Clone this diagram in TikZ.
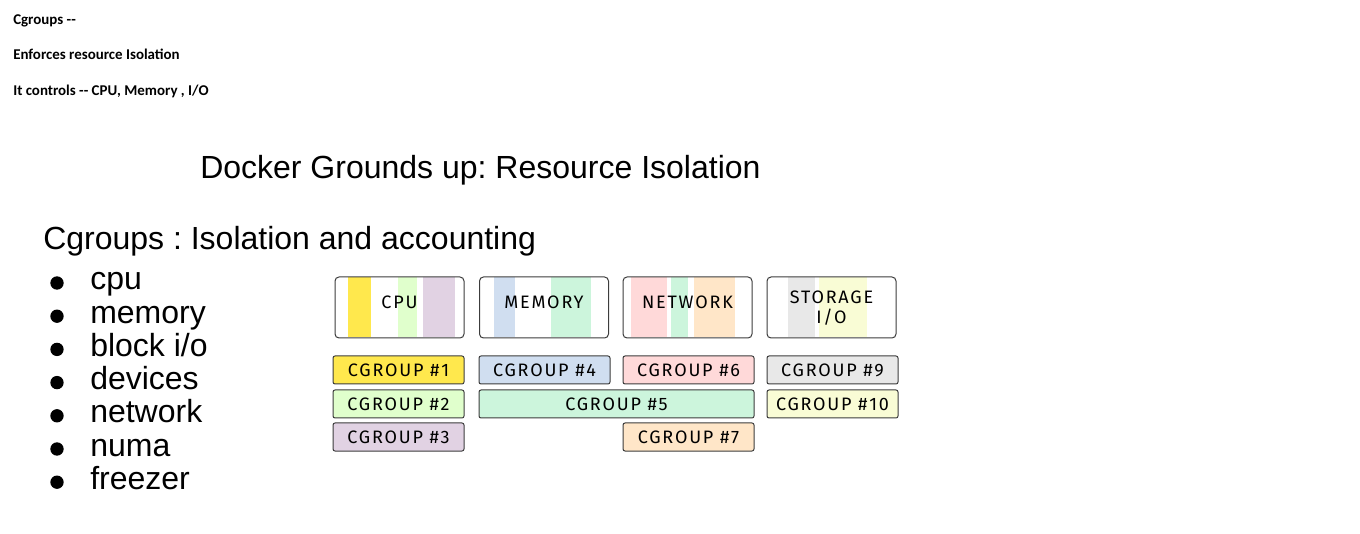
\documentclass[tikz,border=0pt]{standalone}
\usepackage{fontspec}
\setmainfont{Liberation Sans}
\newfontfamily\notefont{Carlito}
\newfontfamily\handfont[LetterSpace=10]{Fira Sans}
\usepackage{tikz}
\usetikzlibrary{positioning}
\frenchspacing
\definecolor{boxline}{RGB}{60,60,60}
\definecolor{cgyellow}{RGB}{255,232,77}
\definecolor{cglime}{RGB}{224,255,204}
\definecolor{cgplum}{RGB}{225,210,227}
\definecolor{cgblue}{RGB}{208,222,240}
\definecolor{cgmint}{RGB}{204,245,220}
\definecolor{cgpink}{RGB}{255,217,217}
\definecolor{cgpeach}{RGB}{255,230,200}
\definecolor{cggray}{RGB}{232,232,232}
\definecolor{cgcream}{RGB}{249,252,213}
\begin{document}
\begin{tikzpicture}[x=0.75pt, y=-0.75pt,
  notetext/.style={font=\notefont\bfseries\fontsize{11.2}{13}\selectfont, inner sep=0pt, anchor=base west},
  bigtext/.style={font=\fontsize{24}{28}\selectfont, inner sep=0pt, anchor=base west},
  dot/.style={circle, fill=black, minimum size=10pt, inner sep=0pt},
  resbox/.style={draw=boxline, line width=0.75pt, rounded corners=3pt, minimum width=96.75pt, minimum height=45.75pt, inner sep=0pt, align=center, text depth=7.5pt, font=\handfont\fontsize{13.5}{15}\selectfont},
  cgbox/.style={draw=boxline, line width=0.75pt, rounded corners=1.5pt, minimum width=98.25pt, minimum height=21pt, inner sep=0pt, font=\handfont\fontsize{13.5}{15}\selectfont}]
  \useasboundingbox (0,0) rectangle (1360,534);

  % Notes at the top left
  \node[notetext] (note1) at (13,25) {Cgroups --};
  \node[notetext] (note2) at (13,60) {Enforces resource Isolation};
  \node[notetext] (note3) at (13,96) {It controls -- CPU, Memory , I/O};

  % Slide titles
  \node[bigtext] (title) at (200,179) {Docker Grounds up: Resource Isolation};
  \node[bigtext] (subtitle) at (43,250) {Cgroups : Isolation and accounting};

  % Bullet list
  \foreach \sub [count=\i] in {cpu, memory, block i/o, devices, network, numa, freezer} {
    \node[dot] (dot\i) at (57,{283+33.2*(\i-1)}) {};
    \node[bigtext] (item\i) at (90,{290+33.2*(\i-1)}) {\sub};
  }

  % Colour stripes inside the resource boxes
  \foreach \xa/\xb/\col in {348/371/cgyellow, 398/417/cglime, 423/455/cgplum,
      494/515/cgblue, 551/591/cgmint,
      631/667/cgpink, 671/688/cgmint, 694/735/cgpeach,
      788/815/cggray, 819/867/cgcream}
    \fill[\col] (\xa,277.5) rectangle (\xb,337.5);

  % Resource boxes
  \node[resbox] (cpu) at (399.5,307.5) {CPU};
  \node[resbox] (memory) at (544,307.5) {MEMORY};
  \node[resbox] (network) at (687.5,307.5) {NETWORK};
  \node[resbox, text depth=1pt] (storage) at (831.5,307.5) {STORAGE\\I/O};

  % Cgroups
  \node[cgbox, fill=cgyellow] (cg1) at (398.5,370) {CGROUP \#1};
  \node[cgbox, fill=cglime] (cg2) at (398.5,404) {CGROUP \#2};
  \node[cgbox, fill=cgplum] (cg3) at (398.5,437) {CGROUP \#3};
  \node[cgbox, fill=cgblue] (cg4) at (544.5,370) {CGROUP \#4};
  \node[cgbox, fill=cgmint, minimum width=206.25pt] (cg5) at (616.5,404) {CGROUP \#5};
  \node[cgbox, fill=cgpink] (cg6) at (688.5,370) {CGROUP \#6};
  \node[cgbox, fill=cgpeach] (cg7) at (688.5,437) {CGROUP \#7};
  \node[cgbox, fill=cggray] (cg9) at (832.5,370) {CGROUP \#9};
  \node[cgbox, fill=cgcream] (cg10) at (832.5,404) {CGROUP \#10};
\end{tikzpicture}
\end{document}
